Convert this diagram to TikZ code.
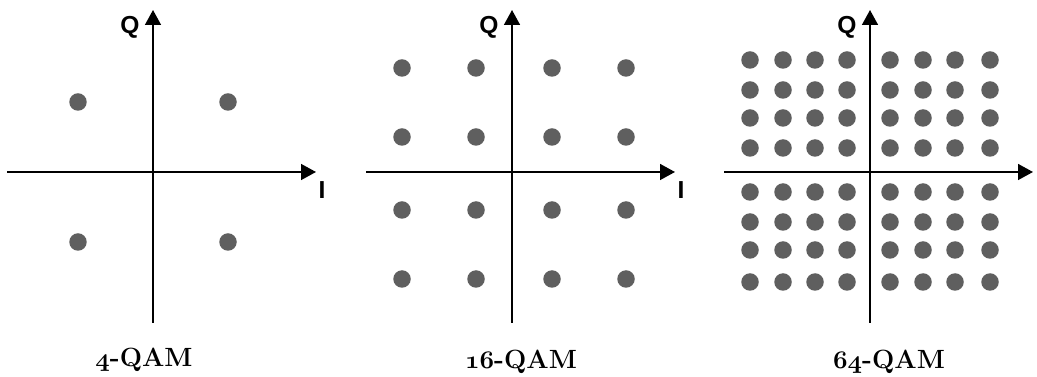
\documentclass[tikz,border=0pt]{standalone}
\usepackage{fontspec}
\newfontfamily\axisfont{Liberation Sans}
\usetikzlibrary{arrows.meta}
\definecolor{dotgray}{RGB}{95,95,95}
\newcommand\osnum[1]{{\usefont{OML}{cmm}{b}{it}#1}}

\begin{document}
\begin{tikzpicture}[x=0.02cm,y=-0.02cm,>={Triangle[length=8.5pt,width=9pt]},
  axis/.style={->,line width=1.1pt},
  axlabel/.style={font=\axisfont\bfseries\fontsize{14}{16}\selectfont},
  title/.style={font=\bfseries\fontsize{15}{17}\selectfont},
  pt/.style={fill=dotgray}]
  \useasboundingbox (0,0) rectangle (1037,377);

  \foreach \ox/\name in {153/a,512/b,870/c} {
    \coordinate (\name-left) at (\ox-146,172);
    \coordinate (\name-right) at (\ox+163,172);
    \coordinate (\name-bot) at (\ox,323);
    \coordinate (\name-top) at (\ox,10);
    \draw[axis] (\name-left) -- (\name-right);
    \draw[axis] (\name-bot) -- (\name-top);
    \node[axlabel] (\name-q) at (\ox-23,27) {Q};
    \node[axlabel] (\name-i) at (\ox+169,190) {I};
  }

  \foreach \x in {78,228}
    \foreach \y in {102,242}
      \fill[pt] (\x,\y) circle[radius=0.175cm];

  \foreach \x in {402,476,552,626}
    \foreach \y in {68,137,210,279}
      \fill[pt] (\x,\y) circle[radius=0.175cm];

  \foreach \x in {750,783,815,847,890,923,955,990}
    \foreach \y in {60,90,118,148,192,222,250,282}
      \fill[pt] (\x,\y) circle[radius=0.175cm];

  \node[title] (qam4) at (144,360) {\osnum{4}-QAM};
  \node[title] (qam16) at (521,362) {\osnum{16}-QAM};
  \node[title] (qam64) at (889,362) {\osnum{64}-QAM};
\end{tikzpicture}
\end{document}
